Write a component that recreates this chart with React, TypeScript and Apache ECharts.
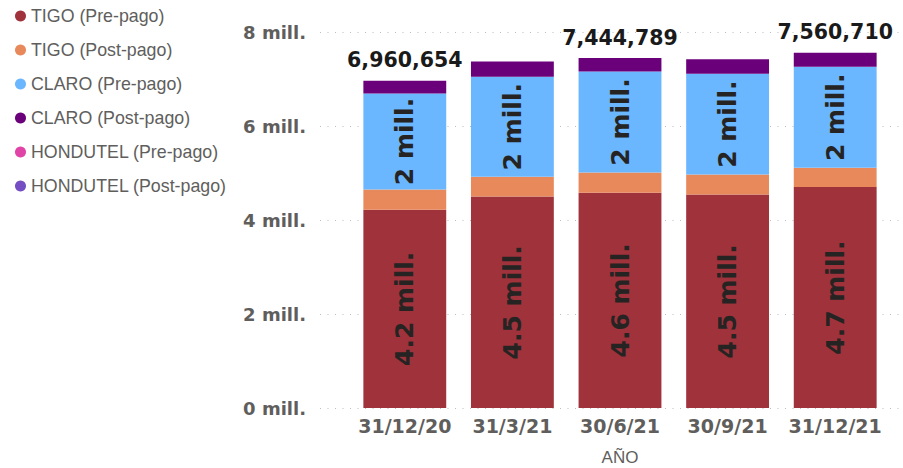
import React, { useEffect, useRef } from "react";
import * as echarts from "echarts";

const categories = ["31/12/20", "31/3/21", "30/6/21", "30/9/21", "31/12/21"];
const tigoPre = [4220000, 4500000, 4580000, 4540000, 4700000];
const tigoPost = [430000, 420000, 430000, 430000, 410000];
const claroPre = [2040000, 2130000, 2150000, 2140000, 2150000];
const claroPost = [270654, 320000, 284789, 310000, 300710];
const hondutelPre = [0, 0, 0, 0, 0];
const hondutelPost = [0, 0, 0, 0, 0];
const showTotal = [true, false, true, false, true];
const seriesNames = [
  "TIGO (Pre-pago)",
  "TIGO (Post-pago)",
  "CLARO (Pre-pago)",
  "CLARO (Post-pago)",
  "HONDUTEL (Pre-pago)",
  "HONDUTEL (Post-pago)",
];
const colors = ["#A0323C", "#E8895C", "#6BB7FF", "#6B007B", "#E044A7", "#744EC2"];

const allSeries = [tigoPre, tigoPost, claroPre, claroPost, hondutelPre, hondutelPost];
const totals = categories.map((_, i) => allSeries.reduce((s, arr) => s + arr[i], 0));

const App: React.FC = () => {
  const ref = useRef<HTMLDivElement>(null);
  useEffect(() => {
    if (!ref.current) return;
    const chart = echarts.init(ref.current, null, { renderer: "svg" });
    const gridTop = 32;
    const gridBottom = 60;
    const inBarLabel = (fmt: (v: number) => string) => ({
      show: true,
      position: "inside",
      rotate: 90,
      fontFamily: "DejaVu Sans",
      fontWeight: "bold",
      fontSize: 25,
      color: "#252423",
      formatter: (p: any) => fmt(p.value),
    });
    const option: any = {
      animation: false,
      color: colors,
      legend: {
        orient: "vertical",
        left: 15,
        top: 6,
        padding: 0,
        icon: "circle",
        itemWidth: 11,
        itemHeight: 11,
        itemGap: 14,
        data: seriesNames,
        textStyle: {
          fontFamily: "Liberation Sans",
          fontSize: 17.8,
          color: "#605E5C",
          lineHeight: 20,
        },
      },
      grid: [
        { left: 320, right: 0, top: gridTop, bottom: gridBottom, outerBoundsMode: "none", containLabel: false },
        { left: 351, right: 14, top: gridTop, bottom: gridBottom, outerBoundsMode: "none", containLabel: false },
      ],
      xAxis: [
        { type: "value", gridIndex: 0, show: false, min: 0, max: 1 },
        {
          type: "category",
          gridIndex: 1,
          data: categories,
          axisLine: { show: false },
          axisTick: { show: false },
          axisLabel: {
            interval: 0,
            margin: 8,
            fontFamily: "DejaVu Sans",
            fontWeight: "bold",
            fontSize: 19,
            color: "#605E5C",
          },
          name: "AÑO",
          nameLocation: "middle",
          nameGap: 41,
          nameTextStyle: {
            fontFamily: "Liberation Sans",
            fontSize: 17,
            color: "#605E5C",
          },
        },
      ],
      yAxis: [
        {
          type: "value",
          gridIndex: 0,
          min: 0,
          max: 8000000,
          interval: 2000000,
          axisLine: { show: false },
          axisTick: { show: false },
          splitLine: {
            show: true,
            lineStyle: { type: [1, 6.5], color: "#BDBDBD", width: 1 },
          },
          axisLabel: {
            margin: 14,
            fontFamily: "DejaVu Sans",
            fontWeight: "bold",
            fontSize: 18,
            color: "#605E5C",
            formatter: (v: number) => `${v / 1000000} mill.`,
          },
        },
        {
          type: "value",
          gridIndex: 1,
          min: 0,
          max: 8000000,
          interval: 2000000,
          show: false,
          splitLine: { show: false },
        },
      ],
      series: [
        {
          name: seriesNames[0],
          type: "bar",
          stack: "total",
          xAxisIndex: 1,
          yAxisIndex: 1,
          barWidth: "77%",
          data: tigoPre,
          label: inBarLabel((v) => `${(v / 1000000).toFixed(1)} mill.`),
        },
        {
          name: seriesNames[1],
          type: "bar",
          stack: "total",
          xAxisIndex: 1,
          yAxisIndex: 1,
          data: tigoPost,
        },
        {
          name: seriesNames[2],
          type: "bar",
          stack: "total",
          xAxisIndex: 1,
          yAxisIndex: 1,
          data: claroPre,
          label: inBarLabel((v) => `${Math.round(v / 1000000)} mill.`),
        },
        {
          name: seriesNames[3],
          type: "bar",
          stack: "total",
          xAxisIndex: 1,
          yAxisIndex: 1,
          data: claroPost.map((v, i) => ({
            value: v,
            label: {
              show: showTotal[i],
              position: "top",
              distance: 10,
              fontFamily: "DejaVu Sans",
              fontWeight: "bold",
              fontSize: 20.5,
              color: "#1a1a1a",
              formatter: () => totals[i].toLocaleString("en-US"),
            },
          })),
        },
        {
          name: seriesNames[4],
          type: "bar",
          stack: "total",
          xAxisIndex: 1,
          yAxisIndex: 1,
          data: hondutelPre,
        },
        {
          name: seriesNames[5],
          type: "bar",
          stack: "total",
          xAxisIndex: 1,
          yAxisIndex: 1,
          data: hondutelPost,
        },
      ],
    };
    chart.setOption(option);
    return () => chart.dispose();
  }, []);
  return (
    <div
      ref={ref}
      style={{ position: "fixed", left: 0, top: 0, width: 903, height: 468, background: "#fff" }}
    />
  );
};

export default App;
